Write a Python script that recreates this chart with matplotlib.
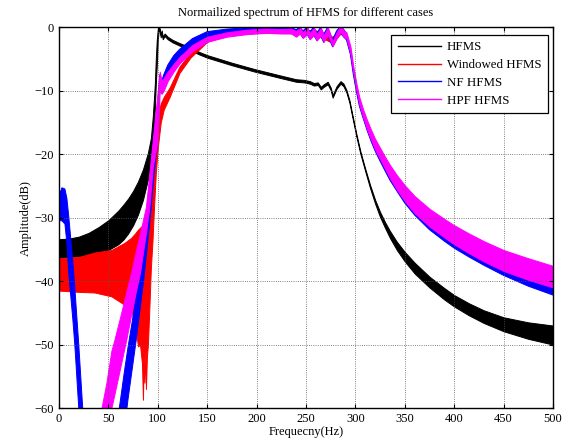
import numpy as np
import matplotlib
matplotlib.use("Agg")
import matplotlib.pyplot as plt
from matplotlib.lines import Line2D

plt.rcParams['font.family'] = ['Liberation Serif', 'DejaVu Serif']

nan = np.nan

# values: frequency (Hz), upper and lower edge of each band (dB)
black_f = [0, 10, 20, 30, 40, 50, 60, 65, 70, 75,
           80, 85, 90, 93, 95, 97, 98, 99, 100, 101,
           102, 103, 104, 105, 107, 110, 115, 122, 130, 142,
           150, 175, 198, 224, 240, 248, 254, 258, 262, 265,
           268, 272, 275, 277, 281, 285, 288, 291, 294, 297,
           301, 305, 310, 315, 320, 325, 330, 335, 342, 350,
           360, 375, 390, 400, 415, 430, 450, 475, 500]
black_hi = [-33.4, -33.3, -33, -32.4, -31.5, -30.4, -28.9, -28, -27, -25.8,
            -24.3, -22.4, -19.8, -17.5, -14, -9, -5, -2, -0.3, 0,
            -0.2, -1.2, -0.5, -1.5, -1.0, -1.5, -2.0, -2.5, -3.0, -3.9,
            -4.4, -5.6, -6.6, -7.6, -8.2, -8.3, -8.5, -8.8, -8.7, -9.4,
            -9.0, -8.6, -9.5, -10.7, -9.3, -8.5, -8.9, -9.9, -11.5, -13.8,
            -16.8, -19.5, -22.3, -24.9, -27.2, -29.1, -30.7, -32.1, -33.8, -35.4,
            -37.1, -39.3, -41.1, -42.2, -43.5, -44.6, -45.7, -46.5, -47]
black_lo = [-36.3, -36.2, -36.1, -35.9, -35.6, -35.1, -34.2, -33.5, -32.5, -31.2,
            -29.5, -27.2, -24, -21, -18, -13, -9, -6, -2, -0.5,
            -0.6, -1.6, -0.9, -1.9, -1.4, -1.9, -2.4, -2.9, -3.4, -4.3,
            -4.8, -6.0, -7.0, -8.0, -8.6, -8.7, -8.9, -9.2, -9.1, -9.8,
            -9.4, -9.0, -9.9, -11.1, -9.7, -8.9, -9.3, -10.3, -11.9, -14.2,
            -17.2, -19.9, -22.7, -25.4, -27.8, -29.9, -31.6, -33.2, -35.1, -36.9,
            -38.8, -41, -42.9, -44, -45.4, -46.6, -47.9, -49.1, -50]

# roll-off frequencies shared by the three filtered cases
decline_f = [291, 295, 298, 301, 304, 308, 312, 316, 320, 325,
             330, 335, 342, 350, 360, 375, 390, 400, 415, 430,
             450, 475, 500]

red_f = [0, 10, 20, 36, 53, 66, 73, 77, 80, 82,
         84, 85, 85.8, 86.5, 87.5, 88, 89, 90, 91.3, 93,
         94.7, 96, 98, 100, 103, 106, 112, 122, 133, 150,
         170, 200, 230, 260, 277, 285] + decline_f
red_hi = [-36.4, -36.3, -36.2, -35.5, -35.1, -34, -33.2, -32.5, -31.9, -31.6,
          -31.3, -31.1, -31, -30.8, -30.6, -30.4, -30, -29.5, -28.3, -24,
          -20.9, -19, -17.7, -14, -12, -11, -9.5, -6.2, -4, -1.7,
          -0.8, -0.3, -0.3, -0.5, -1.5, -0.2,
          -1.3, -3.8, -7, -9.6, -11.8, -13.8, -15.6, -17.2, -18.6, -20.1,
          -21.5, -22.8, -24.4, -26.1, -27.8, -29.9, -31.6, -32.6, -33.9, -35.1,
          -36.6, -38.2, -39.7]
red_lo = [-41.5, -41.6, -41.7, -41.8, -42.4, -43.7, -44.5, -47, -50.3, -50,
          -53, -58.7, -52, -56, -51, -57, -52, -50, -45, -38,
          -33.5, -29, -23, -19, -15, -13, -11, -7.2, -4.8, -2.3,
          -1.3, -0.9, -0.9, -1.2, -2.5, -1,
          -1.6, -3.9, -7.1, -9.7, -12, -14, -15.9, -17.6, -19.1, -20.7,
          -22.2, -23.7, -25.4, -27.3, -29.2, -31.5, -33.3, -34.4, -35.8, -37.1,
          -38.7, -40.4, -41.8]

blue_f = [0, 3, 6, 8, 10, 12, 14, 16, 18, 20,
          22, 24, 26, 27, 57, 58, 62, 66, 70, 74,
          78, 82, 86, 90, 93, 96, 98, 100, 102, 104,
          106, 110, 116, 122, 135, 150, 170, 190, 210, 225,
          235, 240, 244, 247, 251, 254, 258, 261, 265, 268,
          272, 277, 281, 285, 288] + decline_f
blue_hi = [-26.5, -25.3, -25.5, -27, -30, -33.5, -37, -41, -45.5, -50,
           -55, -60, -65, nan, nan, -63, -59, -54.5, -50.3, -46.5,
           -42.5, -38.2, -33.5, -28.3, -22, -17, -14.5, -12, -7.5, -8.5,
           -7.5, -6, -4.5, -3.5, -1.8, -0.7, -0.3, -0.1, 0, -0.1,
           0, -0.4, 0, -0.6, 0, -0.7, 0, -0.9, 0, -1.1,
           0, -2.0, -0.6, 0.2, -0.3,
           -1, -3.5, -6.7, -9.3, -11.5, -13.5, -15.3, -16.9, -18.3, -19.8,
           -21.2, -22.5, -24.1, -25.8, -27.5, -29.6, -31.3, -32.3, -33.6, -34.8,
           -36.3, -37.9, -39.4]
blue_lo = [-30.5, -30.5, -31, -34, -39, -42.5, -46, -50, -55, -60,
           -65, -70, -75, nan, nan, -72, -68, -63.5, -58.5, -54,
           -49.5, -44.5, -39.5, -33.6, -29, -23.5, -20.5, -17.7, -10, -10.5,
           -9.5, -8, -6, -4.8, -3, -1.7, -1.2, -0.9, -0.8, -0.9,
           -0.9, -1.4, -1.0, -1.7, -1.1, -1.9, -1.3, -2.1, -1.4, -2.4,
           -1.3, -3.1, -1.8, -1.0, -1.5,
           -2, -4.3, -7.5, -10.1, -12.4, -14.4, -16.3, -18, -19.5, -21.1,
           -22.6, -24.1, -25.8, -27.7, -29.6, -31.9, -33.7, -34.8, -36.2, -37.5,
           -39.1, -40.8, -42.2]

mag_f = [40, 43, 48, 53, 56, 62, 68, 73, 78, 82,
         86, 88, 91.5, 95, 98, 100, 102, 104, 106, 110,
         116, 122, 135, 150, 170, 190, 210, 225, 235, 240,
         244, 247, 251, 254, 258, 261, 265, 268, 272, 277,
         281, 285, 288] + decline_f
mag_hi = [-62.3, -60, -56, -51, -49.3, -45.6, -41.8, -38.7, -35.2, -32.5,
          -29.7, -28.3, -23, -17.7, -13, -10, -7, -8.5, -8, -7,
          -5.8, -4.7, -2.8, -1.5, -0.8, -0.4, -0.2, -0.3, -0.2, -0.6,
          -0.1, -0.8, -0.1, -0.9, -0.1, -1.1, -0.1, -1.3, 0, -2.2,
          -0.8, 0.3, -0.5,
          -0.8, -3, -6.2, -8.8, -11, -13, -14.7, -16.2, -17.6, -19,
          -20.4, -21.7, -23.3, -24.9, -26.6, -28.6, -30.2, -31.2, -32.5, -33.7,
          -35.1, -36.4, -37.6]
mag_lo = [-70, -68, -63.5, -60, -57.9, -53.6, -49.3, -45.3, -41.5, -38.7,
          -34.5, -32.5, -28.3, -22, -19.5, -17.7, -10, -10.5, -10, -8.5,
          -7, -5.7, -3.8, -2.3, -1.5, -1.1, -0.9, -1.0, -1.0, -1.5,
          -1.0, -1.7, -1.1, -1.9, -1.2, -2.1, -1.3, -2.3, -1.2, -3.0,
          -1.8, -0.8, -1.5,
          -1.8, -4.2, -7.2, -9.9, -12.2, -14.3, -16.2, -17.8, -19.3, -20.8,
          -22.3, -23.8, -25.6, -27.4, -29.3, -31.4, -33.1, -34.2, -35.6, -36.9,
          -38.4, -39.8, -41]

labels = ['HFMS', 'Windowed HFMS', 'NF HFMS', 'HPF HFMS']
colors = ['#000000', '#ff0000', '#0000ff', '#ff00ff']

fig = plt.figure(figsize=(5.7, 4.47), dpi=100)
ax = fig.add_axes([0.1035, 0.0872, 0.8665, 0.852])

series = [(black_f, black_hi, black_lo), (red_f, red_hi, red_lo),
          (blue_f, blue_hi, blue_lo), (mag_f, mag_hi, mag_lo)]
for (f, hi, lo), c in zip(series, colors):
    ax.fill_between(f, hi, lo, color=c, lw=0.7)

ax.set_xlim(0, 500)
ax.set_ylim(-60, 0)
ax.set_xticks(np.arange(0, 501, 50))
ax.set_yticks(np.arange(-60, 1, 10))
ax.grid(True, color='0.35', linestyle=':', linewidth=0.6)
ax.tick_params(direction='in', top=True, right=True, labelsize=9, length=3)
for s in ax.spines.values():
    s.set_linewidth(1.0)

ax.set_title('Normailized spectrum of HFMS for different cases', fontsize=9, pad=8)
ax.set_xlabel('Frequecny(Hz)', fontsize=9, labelpad=1)
ax.set_ylabel('Amplitude(dB)', fontsize=9, labelpad=2)

handles = [Line2D([], [], color=c, lw=1) for c in colors]
leg = ax.legend(handles, labels, loc='upper right', bbox_to_anchor=(0.99, 0.98),
                borderaxespad=0, fancybox=False, fontsize=9.3, handlelength=3.3,
                handletextpad=0.5, labelspacing=0.45, borderpad=0.5, framealpha=1)
leg.get_frame().set_edgecolor('black')
leg.get_frame().set_linewidth(0.9)

fig.savefig('out.png', dpi=100)
